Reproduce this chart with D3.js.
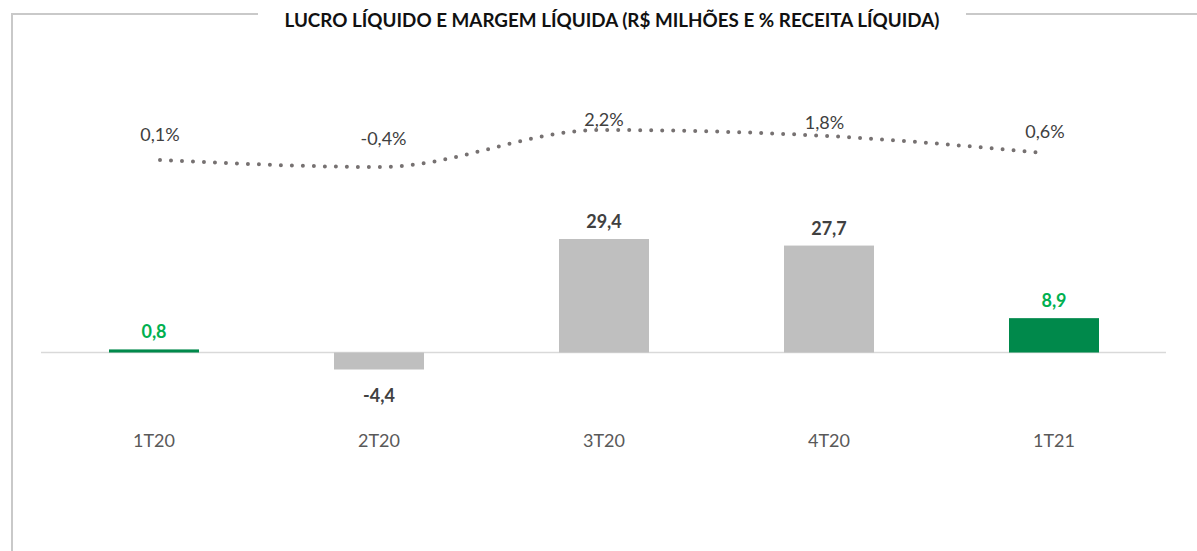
<!DOCTYPE html>
<html>
<head>
<meta charset="utf-8">
<script src="https://cdn.jsdelivr.net/npm/d3@7"></script>
<style>
  body { margin: 0; background: #fff; }
  text { font-family: Lato, "Open Sans", sans-serif; }
</style>
</head>
<body>
<script>
let width = 1197, height = 551;

// data
let quarters = ["1T20", "2T20", "3T20", "4T20", "1T21"];
let lucro = [0.8, -4.4, 29.4, 27.7, 8.9];
let margem = [0.1, -0.4, 2.2, 1.8, 0.6];
let highlight = ["1T20", "1T21"];

let fmt = v => d3.format(".1f")(v).replace(".", ",").replace("\u2212", "-");

let svg = d3.select("body").append("svg")
    .attr("width", width)
    .attr("height", height);

// frame round the chart, broken by the title
let frame = "#c9c9c9";
svg.append("path")
    .attr("d", "M12,551 V14 H258")
    .attr("fill", "none").attr("stroke", frame).attr("stroke-width", 2);
svg.append("line")
    .attr("x1", 966).attr("x2", 1197).attr("y1", 14).attr("y2", 14)
    .attr("stroke", frame).attr("stroke-width", 2);

svg.append("text")
    .attr("x", 612).attr("y", 27)
    .attr("text-anchor", "middle")
    .attr("font-weight", "bold")
    .attr("font-size", 18)
    .attr("textLength", 655)
    .attr("lengthAdjust", "spacingAndGlyphs")
    .attr("fill", "#111")
    .text("LUCRO LÍQUIDO E MARGEM LÍQUIDA (R$ MILHÕES E % RECEITA LÍQUIDA)");

let x = d3.scaleBand().domain(quarters).range([41.5, 1166.5]).paddingInner(0.6).paddingOuter(0.3);
let y = d3.scaleLinear().domain([-4.4, 29.4]).range([369.5, 239]);

// margin line has its own axes (secondary series)
let xM = d3.scalePoint().domain(quarters).range([160, 1042]);
let yM = d3.scaleLinear().domain([-0.4, 2.2]).range([167, 130]);
let yL = d3.scaleLinear().domain([-0.4, 2.2]).range([139, 120]);

// zero axis
svg.append("line")
    .attr("x1", 41).attr("x2", 1166)
    .attr("y1", y(0)).attr("y2", y(0))
    .attr("stroke", "#d9d9d9").attr("stroke-width", 1.5);

// bars
svg.selectAll("rect.bar").data(quarters).enter().append("rect")
    .attr("class", "bar")
    .attr("x", d => x(d))
    .attr("width", x.bandwidth())
    .attr("y", (d, i) => Math.min(y(lucro[i]), y(0)))
    .attr("height", (d, i) => Math.abs(y(lucro[i]) - y(0)))
    .attr("fill", d => highlight.includes(d) ? "#00894b" : "#bfbfbf");

// bar labels
svg.selectAll("text.val").data(quarters).enter().append("text")
    .attr("class", "val")
    .attr("x", d => x(d) + x.bandwidth() / 2)
    .attr("y", (d, i) => lucro[i] >= 0 ? y(lucro[i]) - 11 : y(lucro[i]) + 32)
    .attr("text-anchor", "middle")
    .attr("font-weight", "bold")
    .attr("font-size", 18)
    .attr("fill", d => highlight.includes(d) ? "#00b050" : "#404040")
    .text((d, i) => fmt(lucro[i]));

// category labels
svg.selectAll("text.cat").data(quarters).enter().append("text")
    .attr("class", "cat")
    .attr("x", d => x(d) + x.bandwidth() / 2)
    .attr("y", 447)
    .attr("text-anchor", "middle")
    .attr("font-size", 18)
    .attr("fill", "#595959")
    .text(d => d);

// margin line (dotted, smoothed)
let line = d3.line()
    .x(d => xM(d))
    .y((d, i) => yM(margem[i]))
    .curve(d3.curveMonotoneX);
svg.append("path")
    .attr("d", line(quarters))
    .attr("fill", "none")
    .attr("stroke", "#767171")
    .attr("stroke-width", 4)
    .attr("stroke-linecap", "round")
    .attr("stroke-dasharray", "0 11");

svg.selectAll("text.pct").data(quarters).enter().append("text")
    .attr("class", "pct")
    .attr("x", (d, i) => xM(d) + (i == 0 ? 0 : 3))
    .attr("y", (d, i) => yL(margem[i]) + 6)
    .attr("text-anchor", "middle")
    .attr("font-size", 18)
    .attr("fill", "#404040")
    .text((d, i) => fmt(margem[i]) + "%");
</script>
</body>
</html>
